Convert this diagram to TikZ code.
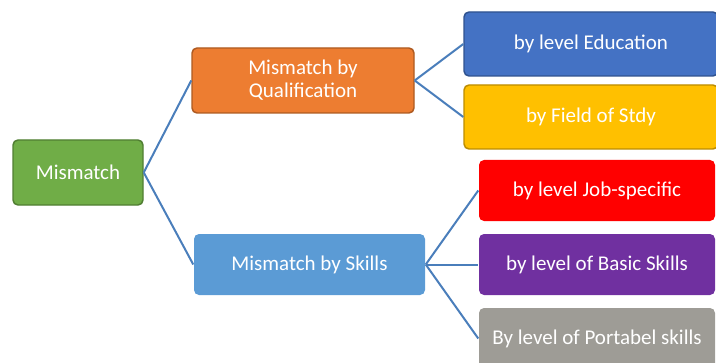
\documentclass[tikz,border=0pt]{standalone}
\usepackage{fontspec}
\setmainfont{Carlito}
\usetikzlibrary{calc}
\usetikzlibrary{math}

\begin{document}
\begin{tikzpicture}[x=0.75pt, y=-0.75pt, font=\fontsize{15.75}{17.25}\selectfont]
    \definecolor{green}{RGB}{112, 173, 71}
    \definecolor{greenB}{RGB}{80, 126, 50}
    \definecolor{orange}{RGB}{237, 125, 49}
    \definecolor{orangeB}{RGB}{174, 90, 33}
    \definecolor{lblue}{RGB}{91, 155, 213}
    \definecolor{blue}{RGB}{68, 114, 196}
    \definecolor{blueB}{RGB}{47, 82, 143}
    \definecolor{yellow}{RGB}{255, 192, 0}
    \definecolor{yellowB}{RGB}{188, 140, 0}
    \definecolor{red}{RGB}{255, 0, 0}
    \definecolor{purple}{RGB}{112, 48, 160}
    \definecolor{grey}{RGB}{158, 156, 150}
    \definecolor{link}{RGB}{74, 126, 187}

    \tikzmath {
        \dMidX = 225;
        \dMidY = 92;
        \dEduX = 288;
        \dEduY = 36.5;
        \dLeafX = 287.5;
        \dLeafY = 74;
    }

    \useasboundingbox (0,0) rectangle (716,363);

    \tikzstyle{a}=[rounded corners=3.75pt, line width=1.1pt, text=white, align=center, inner sep=2pt]
    \tikzstyle{b}=[a, minimum width=190.5pt, minimum height=48pt]
    \tikzstyle{c}=[a, minimum width=177pt, minimum height=45.75pt]
    \tikzstyle{e}=[link, line width=1.5pt]

    \coordinate (mis_c) at (78, 172.5);
    \node[a, fill=green, draw=greenB, minimum width=97.5pt, minimum height=48.75pt] (mis) at (mis_c) {Mismatch};

    \coordinate (qual_c) at ($(mis_c) + (\dMidX, -\dMidY)$);
    \node[a, fill=orange, draw=orangeB, minimum width=166.5pt, minimum height=48.75pt] (qual) at (qual_c) {Mismatch by\\Qualification};

    \coordinate (skill_c) at ($(mis_c) + (\dMidX + 6.5, \dMidY)$);
    \node[a, fill=lblue, minimum width=173.25pt, minimum height=45.75pt] (skill) at (skill_c) {Mismatch by Skills};

    \coordinate (edu_c) at ($(qual_c) + (\dEduX, -\dEduY)$);
    \node[b, fill=blue, draw=blueB] (edu) at (edu_c) {by level Education};

    \coordinate (field_c) at ($(qual_c) + (\dEduX, \dEduY)$);
    \node[b, fill=yellow, draw=yellowB] (field) at (field_c) {by Field of Stdy};

    \coordinate (job_c) at ($(skill_c) + (\dLeafX, -\dLeafY)$);
    \node[c, fill=red] (job) at (job_c) {by level Job-specific};

    \coordinate (basic_c) at ($(skill_c) + (\dLeafX, 0)$);
    \node[c, fill=purple] (basic) at (basic_c) {by level of Basic Skills};

    \coordinate (port_c) at ($(skill_c) + (\dLeafX, \dLeafY)$);
    \node[c, fill=grey] (port) at (port_c) {By level of Portabel skills};

    \draw[e] (mis.east) -- (qual.west);
    \draw[e] (mis.east) -- (skill.west);
    \draw[e] (qual.east) -- (edu.west);
    \draw[e] (qual.east) -- (field.west);
    \draw[e] (skill.east) -- (job.west);
    \draw[e] (skill.east) -- (basic.west);
    \draw[e] (skill.east) -- (port.west);
\end{tikzpicture}
\end{document}
